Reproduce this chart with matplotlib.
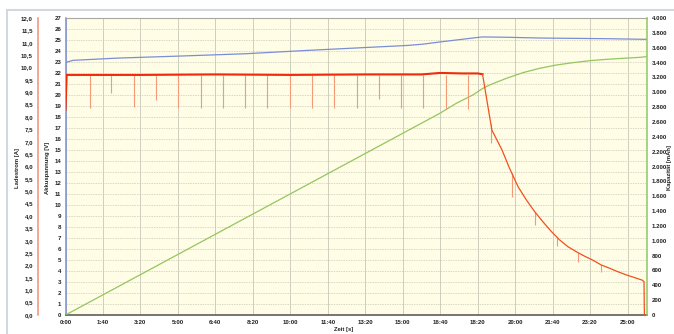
#!/usr/bin/env python3
"""
Ladekurve: Ladestrom, Akkuspannung und Kapazitaet ueber der Zeit
"""

import numpy as np
import matplotlib
matplotlib.use("Agg")
import matplotlib.pyplot as plt
from matplotlib.ticker import FuncFormatter, MultipleLocator
from matplotlib.patches import Rectangle

# --- data ---
time_v = [0, 20, 136, 314, 480, 643, 821, 910, 954, 999, 1043, 1087, 1113, 1177, 1265, 1354, 1443, 1550]
volt = [22.95, 23.15, 23.35, 23.55, 23.75, 24.05, 24.35, 24.5, 24.62, 24.82, 25.0, 25.18, 25.28, 25.25, 25.18, 25.15, 25.12, 25.06]

time_i = [0, 3, 200, 400, 600, 800, 950, 1000, 1060, 1100, 1113, 1138, 1165, 1185, 1208, 1230, 1252,
          1274, 1297, 1319, 1341, 1363, 1385, 1407, 1430, 1452, 1474, 1497, 1519, 1539, 1544, 1545]
current = [8.3, 9.7, 9.7, 9.72, 9.7, 9.72, 9.72, 9.78, 9.76, 9.76, 9.73, 7.47, 6.67, 5.93, 5.18, 4.65, 4.18,
           3.77, 3.37, 3.03, 2.76, 2.56, 2.38, 2.22, 2.02, 1.89, 1.75, 1.62, 1.51, 1.41, 1.35, 0.0]

spike_t = [65, 122, 183, 241, 300, 361, 420, 479, 538, 599, 657, 716, 777, 836, 895, 954, 1015, 1073,
           1135, 1191, 1252, 1311, 1369, 1430]
spike_top = [9.7] * 18 + [7.7, 5.75, 4.18, 3.15, 2.5, 2.02]
spike_low = [8.36, 8.97, 8.40, 8.69, 8.36, 8.36, 8.36, 8.36, 8.36, 8.36, 8.36, 8.36, 8.36, 8.73, 8.36, 8.36, 8.32, 8.32,
             6.95, 4.77, 3.64, 2.79, 2.14, 1.74]

time_c = [0, 999, 1043, 1087, 1114, 1132, 1177, 1221, 1265, 1310, 1354, 1399, 1443, 1487, 1532, 1550]
cap = [0, 2716, 2851, 2963, 3053, 3098, 3188, 3264, 3322, 3367, 3398, 3425, 3443, 3457, 3470, 3479]

W, H = 674, 334
FS = 4.4      # tick labels
FS_T = 4.2    # axis titles
PX = 0.72     # points per pixel at 100 dpi

plt.rcParams['font.family'] = ['Liberation Sans Narrow', 'Liberation Sans', 'DejaVu Sans']

def mmss(v, pos):
    v = int(round(v))
    return f"{v // 60}:{v % 60:02d}"

def komma(v, pos):
    return f"{v:.1f}".replace('.', ',')

def tausend(v, pos):
    return f"{v:,.0f}".replace(',', '.')

def main():
    fig = plt.figure(figsize=(W / 100, H / 100), dpi=100)
    fig.patch.set_facecolor('white')

    # outer frame
    fig.patches.append(Rectangle((7 / W, -0.05), 1.1, 1 - 10 / H + 0.05, transform=fig.transFigure,
                                 fill=False, edgecolor='#D3D7DF', linewidth=1.5))

    left, right, top, bottom = 65.5, 647, 18, 315
    ax = fig.add_axes([left / W, 1 - bottom / H, (right - left) / W, (bottom - top) / H])
    ax.set_facecolor('#FFFDE6')

    ax_c = ax.twinx()
    ax_i = ax.twinx()

    # grid
    ax.set_xlim(0, 1552)
    ax.xaxis.set_major_locator(MultipleLocator(100))
    ax.xaxis.set_major_formatter(FuncFormatter(mmss))
    ax.set_ylim(0, 27)
    ax.yaxis.set_major_locator(MultipleLocator(1))
    ax.grid(axis='x', color='#C8C8B8', linewidth=0.6)
    ax.grid(axis='y', color='#C8C8B8', linewidth=0.5, linestyle=(0, (2, 1.5)))
    ax.set_axisbelow(True)

    # lines
    ax.plot(time_v, volt, color='#7A8ED6', linewidth=0.9)
    ax_c.plot(time_c, cap, color='#92C660', linewidth=0.9)
    ax_i.vlines(spike_t, spike_low, spike_top, color='#F49A78', linewidth=0.8)
    ax_i.plot(time_i[:11], current[:11], color='#F02A0A', linewidth=1.5)
    ax_i.plot(time_i[10:], current[10:], color='#F2501E', linewidth=0.9)

    ax_c.set_ylim(0, 4000)
    ax_c.yaxis.set_major_locator(MultipleLocator(200))
    ax_c.yaxis.set_major_formatter(FuncFormatter(tausend))

    ax_i.set_ylim(0, 12)
    ax_i.yaxis.set_major_locator(MultipleLocator(0.5))
    ax_i.yaxis.set_major_formatter(FuncFormatter(komma))
    ax_i.yaxis.set_ticks_position('left')
    ax_i.spines['left'].set_position(('outward', 27.5 * PX))

    # spines
    for a in (ax, ax_c, ax_i):
        for s in a.spines.values():
            s.set_visible(False)
    ax.spines['left'].set_visible(True)
    ax.spines['left'].set_color('#7A8ED6')
    ax.spines['bottom'].set_visible(True)
    ax.spines['bottom'].set_color('#505050')
    ax.spines['top'].set_visible(True)
    ax.spines['top'].set_color('#A8A8A0')
    ax_c.spines['right'].set_visible(True)
    ax_c.spines['right'].set_color('#92C660')
    ax_i.spines['left'].set_visible(True)
    ax_i.spines['left'].set_color('#F29074')
    for s in (ax.spines['left'], ax.spines['bottom'], ax_c.spines['right'], ax_i.spines['left']):
        s.set_linewidth(1.1)

    tick_kw = dict(length=0, labelsize=FS, colors='#222222')
    ax.tick_params(axis='x', pad=4.5 * PX, **tick_kw)
    ax.tick_params(axis='y', pad=4 * PX, **tick_kw)
    ax_c.tick_params(axis='y', pad=5 * PX, **tick_kw)
    ax_i.tick_params(axis='y', pad=5 * PX, **tick_kw)
    for a in (ax, ax_c, ax_i):
        for lab in a.get_xticklabels() + a.get_yticklabels():
            lab.set_fontweight('bold')

    # axis titles
    fig.text(17 / W, 1 - 168 / H, 'Ladestrom [A]', rotation=90, ha='center', va='center',
             fontsize=FS_T, fontweight='bold', color='#222222')
    fig.text(47 / W, 1 - 168 / H, 'Akkuspannung [V]', rotation=90, ha='center', va='center',
             fontsize=FS_T, fontweight='bold', color='#222222')
    fig.text(670 / W, 1 - 168 / H, 'Kapazität [mAh]', rotation=90, ha='center', va='center',
             fontsize=FS_T, fontweight='bold', color='#222222')
    fig.text(344 / W, 1 - 330 / H, 'Zeit [s]', ha='center', va='center',
             fontsize=FS_T, fontweight='bold', color='#222222')

    fig.savefig('out.png', dpi=100)
    plt.close(fig)

if __name__ == "__main__":
    main()
